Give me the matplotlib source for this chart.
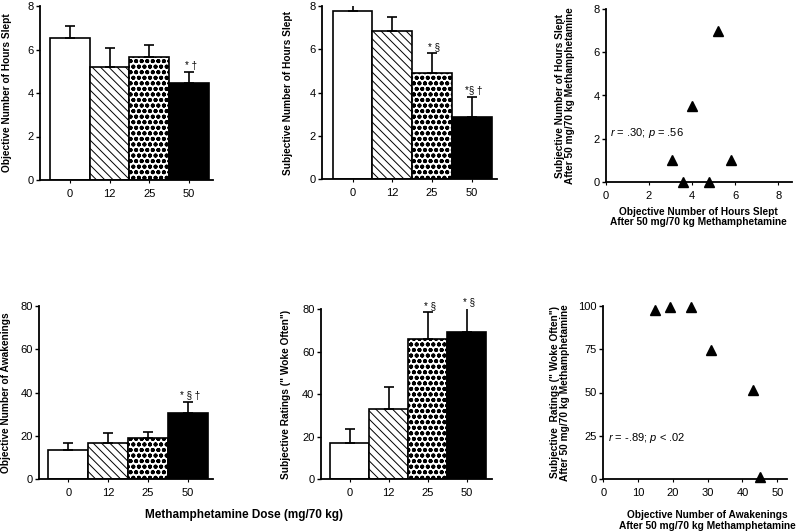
import numpy as np
import matplotlib
matplotlib.use("Agg")
import matplotlib.pyplot as plt

plt.rcParams['font.family'] = ['Liberation Sans', 'DejaVu Sans']
plt.rcParams['mathtext.fontset'] = 'custom'
plt.rcParams['mathtext.rm'] = 'Liberation Sans'
plt.rcParams['mathtext.it'] = 'Liberation Sans:italic'
plt.rcParams['hatch.linewidth'] = 0.7

# doses (x categories of the bar panels)
doses = ['0', '12', '25', '50']

# objective / subjective hours slept (mean, SEM upper)
obj_hours = [6.54, 5.21, 5.64, 4.47]
obj_hours_err = [0.54, 0.85, 0.57, 0.48]
subj_hours = [7.78, 6.85, 4.89, 2.89]
subj_hours_err = [0.36, 0.65, 0.93, 0.92]

# objective awakenings / subjective "woke often"
obj_wake = [13.7, 16.6, 19.2, 30.6]
obj_wake_err = [2.9, 4.8, 2.8, 5.2]
subj_wake = [17.2, 32.9, 65.9, 69.0]
subj_wake_err = [6.4, 10.3, 12.5, 11.6]

# significance marks per bar
obj_hours_sig = ['', '', '', '* †']
subj_hours_sig = ['', '', '* §', '*§ †']
obj_wake_sig = ['', '', '', '* § †']
subj_wake_sig = ['', '', '* §', '* §']

# scatter: individual subjects after 50 mg/70 kg
sc_obj_hours = [3.08, 3.57, 4.0, 4.77, 5.2, 5.8]
sc_subj_hours = [1.0, 0.0, 3.5, 0.0, 7.0, 1.0]
sc_obj_wake = [15.0, 19.2, 25.1, 31.0, 43.1, 45.0]
sc_subj_wake = [97.5, 99.6, 99.6, 74.5, 51.5, 1.0]

W, H = 798, 531
fig = plt.figure(figsize=(W / 100, H / 100), dpi=100)

LBL = 7.3


def add_ax(x0, x1, ytop, ybot):
    return fig.add_axes([x0 / W, 1 - ybot / H, (x1 - x0) / W, (ybot - ytop) / H])


def style(ax):
    for s in ['top', 'right']:
        ax.spines[s].set_visible(False)
    for s in ['left', 'bottom']:
        ax.spines[s].set_linewidth(1.3)
    ax.tick_params(axis='y', direction='out', length=3, width=1, pad=1.5, labelsize=8)
    ax.tick_params(axis='x', direction='out', length=2.5, width=0.8, pad=4, labelsize=8)


fills = [('white', None, 0.7), ('white', '\\\\\\\\', 0.7),
         ('white', 'ooo', 1.3), ('black', None, 0.7)]


def bar_panel(ax, vals, errs, sig, ymax, yticks, ylabel, xlim, sig_off, lpad):
    pos = np.arange(len(vals))
    for i in range(len(vals)):
        fc, hatch, hlw = fills[i]
        with plt.rc_context({'hatch.linewidth': hlw}):
            ax.bar(pos[i], vals[i], width=1.0, facecolor=fc,
                   edgecolor='black', linewidth=1.2, hatch=hatch, zorder=2)
    ax.errorbar(pos, vals, yerr=[np.zeros(len(errs)), errs], fmt='none',
                ecolor='black', elinewidth=1.2, capsize=3.5, capthick=1.2, zorder=3)
    for i in range(len(vals)):
        if sig[i]:
            ax.text(pos[i] + 0.05, vals[i] + errs[i] + sig_off, sig[i], ha='center',
                    va='bottom', fontsize=7)
    ax.set_xlim(*xlim)
    ax.set_ylim(0, ymax)
    ax.set_yticks(yticks)
    ax.set_xticks(pos)
    ax.set_xticklabels(doses)
    ax.set_ylabel(ylabel, fontsize=LBL, fontweight='bold', labelpad=lpad)
    style(ax)


ax1 = add_ax(40, 213, 6, 180)
bar_panel(ax1, obj_hours, obj_hours_err, obj_hours_sig, 8, [0, 2, 4, 6, 8],
          'Objective Number of Hours Slept', (-0.75, 3.6), 0.05, 11)

ax2 = add_ax(321.7, 496.7, 6, 179.3)
bar_panel(ax2, subj_hours, subj_hours_err, subj_hours_sig, 8, [0, 2, 4, 6, 8],
          'Subjective Number of Hours Slept', (-0.78, 3.63), 0.05, 12)

ax4 = add_ax(39.3, 213, 306, 479.3)
bar_panel(ax4, obj_wake, obj_wake_err, obj_wake_sig, 80, [0, 20, 40, 60, 80],
          'Objective Number of Awakenings', (-0.73, 3.63), 0.5, 7)

ax5 = add_ax(320.7, 492, 309, 479.3)
bar_panel(ax5, subj_wake, subj_wake_err, subj_wake_sig, 80, [0, 20, 40, 60, 80],
          'Subjective Ratings (" Woke Often")', (-0.75, 3.65), 0.5, 8)

# scatter panels
ax3 = add_ax(605.7, 791.7, 9.3, 181.7)
ax3.plot(sc_obj_hours, sc_subj_hours, '^', color='black', ms=7, clip_on=False, zorder=3)
ax3.set_xlim(0, 8.62)
ax3.set_ylim(0, 8)
ax3.set_xticks([0, 2, 4, 6, 8])
ax3.set_yticks([0, 2, 4, 6, 8])
ax3.text(0.2, 2.24, '$r$ = .30; $p$ = .56', fontsize=8, va='center', ha='left')
ax3.set_xlabel('Objective Number of Hours Slept\nAfter 50 mg/70 kg Methamphetamine',
               fontsize=LBL, fontweight='bold', linespacing=1.05)
ax3.set_ylabel('Subjective Number of Hours Slept\nAfter 50 mg/70 kg Methamphetamine',
               fontsize=LBL, fontweight='bold', labelpad=13, linespacing=1.05)
style(ax3)
ax3.xaxis.label.set_va('top')
ax3.xaxis.set_label_coords(0.5, -0.145)

ax6 = add_ax(603.3, 787, 306, 479)
ax6.plot(sc_obj_wake, sc_subj_wake, '^', color='black', ms=7, clip_on=False, zorder=3)
ax6.set_xlim(0, 52.8)
ax6.set_ylim(0, 100)
ax6.set_xticks([0, 10, 20, 30, 40, 50])
ax6.set_yticks([0, 25, 50, 75, 100])
ax6.text(1.4, 23.5, '$r$ = -.89; $p$ < .02', fontsize=8, va='center', ha='left')
ax6.set_xlabel('Objective Number of Awakenings\nAfter 50 mg/70 kg Methamphetamine',
               fontsize=LBL, fontweight='bold', linespacing=1.05)
ax6.set_ylabel('Subjective  Ratings (" Woke Often")\nAfter 50 mg/70 kg Methamphetamine',
               fontsize=LBL, fontweight='bold', labelpad=6, linespacing=1.05)
style(ax6)
ax6.xaxis.label.set_va('top')
ax6.xaxis.set_label_coords(0.565, -0.18)

fig.text(244 / W, 1 - 515 / H, 'Methamphetamine Dose (mg/70 kg)', ha='center', va='center',
         fontsize=8.5, fontweight='bold')

fig.savefig('out.png', dpi=100)
